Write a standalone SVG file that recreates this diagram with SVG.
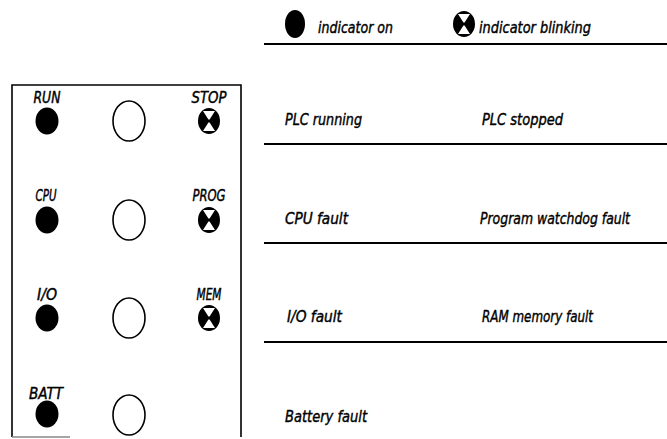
<svg xmlns="http://www.w3.org/2000/svg" width="667" height="439" viewBox="0 0 667 439">
<defs>
<style>
text{font-family:"DejaVu Sans Condensed","DejaVu Sans","Liberation Sans",sans-serif;font-style:oblique;font-size:16px;fill:#000;stroke:#000;stroke-width:0.4}
.lbl{text-anchor:middle;font-size:15px}
.on{fill:#000}
.off{fill:#fff;stroke:#000;stroke-width:1.6}
.sep{stroke:#000;stroke-width:2}
.box{fill:none;stroke:#000;stroke-width:1.6}
</style>
<g id="blink">
<ellipse cx="0" cy="0" rx="11" ry="13" fill="#000"/>
<path d="M-6,-10 L6,-10 L0.6,-1.5 L-0.6,-1.5 Z M-6,10 L6,10 L0.6,1.5 L-0.6,1.5 Z" fill="#fff"/>
</g>
</defs>
<rect width="667" height="439" fill="#fff"/>

<g id="legend">
<ellipse class="on" cx="295" cy="24" rx="10" ry="14"/>
<text x="318" y="33" textLength="75" lengthAdjust="spacingAndGlyphs">indicator on</text>
<use href="#blink" x="464" y="24"/>
<text x="479" y="33" textLength="112" lengthAdjust="spacingAndGlyphs">indicator blinking</text>
</g>

<g id="panel">
<path class="box" d="M12,437 L12,85 L241,85 L241,437"/>
<line x1="12" y1="437" x2="70" y2="437" stroke="#888" stroke-width="1.5"/>
</g>

<g id="row-run">
<text class="lbl" x="47" y="103" textLength="27" lengthAdjust="spacingAndGlyphs">RUN</text>
<ellipse class="on" cx="47" cy="121" rx="11.5" ry="13.5"/>
<ellipse class="off" cx="129" cy="121" rx="16" ry="20"/>
<text class="lbl" x="209" y="103" textLength="35" lengthAdjust="spacingAndGlyphs">STOP</text>
<use href="#blink" x="209" y="121"/>
<text x="285" y="125" textLength="77" lengthAdjust="spacingAndGlyphs">PLC running</text>
<text x="482" y="125" textLength="81" lengthAdjust="spacingAndGlyphs">PLC stopped</text>
</g>

<g id="row-cpu">
<text class="lbl" x="46" y="201" textLength="21" lengthAdjust="spacingAndGlyphs">CPU</text>
<ellipse class="on" cx="47" cy="220" rx="11.5" ry="13.5"/>
<ellipse class="off" cx="129" cy="220" rx="16" ry="20"/>
<text class="lbl" x="209" y="201" textLength="33" lengthAdjust="spacingAndGlyphs">PROG</text>
<use href="#blink" x="209" y="220"/>
<text x="285" y="224" textLength="63" lengthAdjust="spacingAndGlyphs">CPU fault</text>
<text x="480" y="224" textLength="150" lengthAdjust="spacingAndGlyphs">Program watchdog fault</text>
</g>

<g id="row-io">
<text class="lbl" x="47" y="300" textLength="20" lengthAdjust="spacingAndGlyphs">I/O</text>
<ellipse class="on" cx="47" cy="318" rx="11.5" ry="13.5"/>
<ellipse class="off" cx="129" cy="318" rx="16" ry="20"/>
<text class="lbl" x="209" y="300" textLength="25" lengthAdjust="spacingAndGlyphs">MEM</text>
<use href="#blink" x="209" y="318"/>
<text x="287" y="322" textLength="55" lengthAdjust="spacingAndGlyphs">I/O fault</text>
<text x="482" y="322" textLength="111" lengthAdjust="spacingAndGlyphs">RAM memory fault</text>
</g>

<g id="row-batt">
<text class="lbl" x="46" y="399" textLength="34" lengthAdjust="spacingAndGlyphs">BATT</text>
<ellipse class="on" cx="47" cy="414" rx="11.5" ry="13.5"/>
<ellipse class="off" cx="129" cy="415" rx="16" ry="20"/>
<text x="285" y="422" textLength="82" lengthAdjust="spacingAndGlyphs">Battery fault</text>
</g>

<g id="connectors">
<line class="sep" x1="264" y1="44" x2="667" y2="44"/>
<line class="sep" x1="264" y1="144" x2="667" y2="144"/>
<line class="sep" x1="264" y1="243" x2="667" y2="243"/>
<line class="sep" x1="264" y1="342" x2="667" y2="342"/>
</g>
</svg>
